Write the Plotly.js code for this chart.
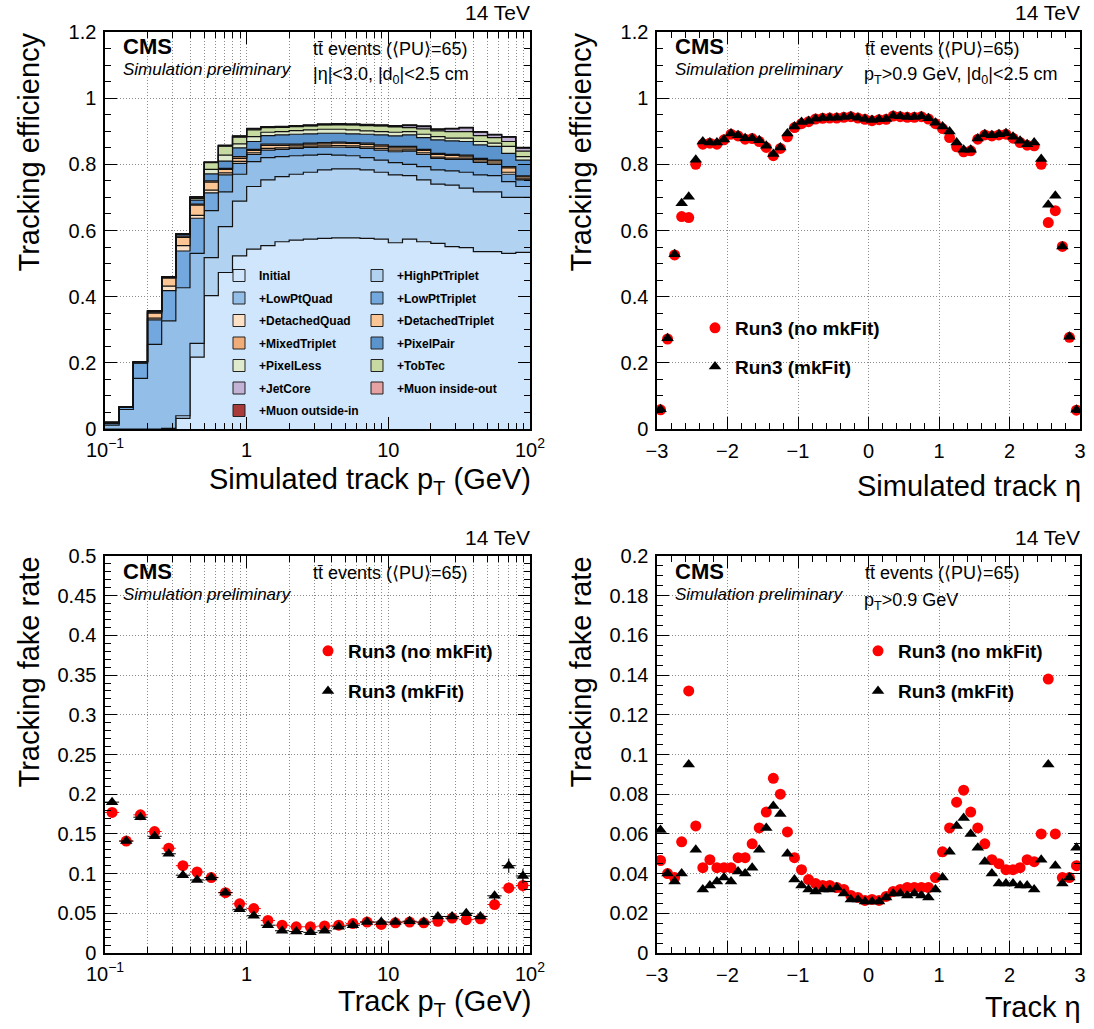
<!DOCTYPE html>
<html><head><meta charset="utf-8">
<script src="https://cdn.plot.ly/plotly-3.0.1.min.js"></script>
<style>html,body{margin:0;padding:0;background:#fff}#chart{width:1094px;height:1029px}</style>
</head><body><div id="chart"></div>
<script>
// ---------- binning ----------
const ptLogMin = -1, ptLogStep = 0.1, nPtBins = 30;   // 0.1 .. 100 GeV, log bins
const etaMin = -3, etaStep = 0.1, nEtaBins = 60;      // -3 .. 3

// ---------- stacked efficiency vs pT (per iteration contribution) ----------
const effInitial        = [0,0,0,0,0.002,0.032,0.217,0.403,0.473,0.523,0.544,0.554,0.566,0.571,0.574,0.576,0.578,0.578,0.576,0.574,0.563,0.574,0.566,0.561,0.551,0.548,0.536,0.536,0.531,0.534];
const effHighPtTriplet  = [0,0,0,0,0,0.008,0.042,0.115,0.139,0.166,0.189,0.199,0.197,0.199,0.202,0.207,0.208,0.208,0.207,0.202,0.205,0.192,0.187,0.179,0.186,0.180,0.181,0.181,0.169,0.166];
const effLowPtQuad      = [0.012,0.059,0.153,0.256,0.325,0.387,0.272,0.142,0.105,0.081,0.075,0.067,0.060,0.056,0.052,0.047,0.042,0.040,0.037,0.037,0.037,0.034,0.040,0.043,0.043,0.048,0.051,0.049,0.048,0.033];
const effLowPtTriplet   = [0.006,0.006,0.046,0.074,0.091,0.111,0.106,0.054,0.051,0.033,0.022,0.023,0.022,0.022,0.023,0.022,0.024,0.025,0.028,0.030,0.033,0.040,0.037,0.035,0.035,0.039,0.038,0.034,0.022,0.020];
const effDetachedQuad   = [0,0,0.001,0.005,0.014,0.016,0.009,0.008,0.006,0.006,0.005,0.005,0.005,0.004,0.004,0.004,0.005,0.005,0.005,0.005,0.005,0.004,0.005,0.004,0.004,0.004,0.004,0.004,0.006,0.003];
const effDetachedTriplet= [0,0.001,0.001,0.015,0.024,0.025,0.031,0.024,0.011,0.009,0.007,0.009,0.007,0.006,0.006,0.006,0.007,0.007,0.007,0.007,0.007,0.006,0.007,0.008,0.008,0.006,0.005,0.006,0.013,0.006];
const effMixedTriplet   = [0,0,0.001,0.003,0.002,0.004,0.003,0.004,0.003,0.005,0.003,0.004,0.004,0.003,0.003,0.004,0.003,0.003,0.004,0.004,0.004,0.004,0.003,0.003,0.003,0.003,0.003,0.003,0.004,0.003];
const effPixelPair      = [0.002,0.001,0.002,0.002,0.001,0.006,0.012,0.021,0.022,0.027,0.024,0.026,0.028,0.030,0.028,0.028,0.027,0.026,0.027,0.030,0.032,0.035,0.036,0.041,0.041,0.041,0.041,0.041,0.040,0.048];
const effPixelLess      = [0,0,0,0.001,0,0,0.005,0.014,0.018,0.012,0.015,0.010,0.010,0.011,0.012,0.012,0.012,0.012,0.010,0.010,0.011,0.010,0.010,0.010,0.008,0.010,0.010,0.010,0.021,0.010];
const effTobTec         = [0,0,0,0.001,0.001,0,0.004,0.020,0.027,0.020,0.020,0.014,0.013,0.012,0.012,0.013,0.013,0.015,0.016,0.017,0.016,0.012,0.016,0.017,0.020,0.020,0.018,0.017,0.015,0.017];
const effJetCore        = [0,0,0,0,0,0,0,0.001,0.001,0.002,0.003,0.001,0.001,0.001,0.001,0.001,0.002,0.001,0.002,0.001,0.002,0.006,0.007,0.004,0.008,0.011,0.010,0.008,0.013,0.009];
const effMuonInsideOut  = [0,0,0,0.001,0,0,0.001,0.001,0.001,0.001,0.001,0.001,0.001,0.001,0.001,0.001,0.001,0.001,0.001,0.001,0.001,0.001,0.001,0.001,0.001,0.001,0.001,0.001,0.001,0.001];
const effMuonOutsideIn  = [0,0,0,0,0,0,0,0,0.001,0.001,0.001,0.001,0.001,0.001,0.001,0.001,0.001,0.001,0.001,0.001,0.001,0.001,0.001,0.001,0.001,0.001,0.001,0.001,0.001,0.001];

// ---------- efficiency vs eta ----------
const effEtaNoMkFit = [0.058,0.272,0.526,0.642,0.639,0.800,0.861,0.864,0.861,0.874,0.891,0.886,0.876,0.878,0.869,0.851,0.826,0.848,0.883,0.911,0.923,0.929,0.937,0.939,0.940,0.940,0.942,0.944,0.940,0.936,0.932,0.935,0.936,0.946,0.944,0.942,0.942,0.944,0.937,0.923,0.908,0.881,0.853,0.838,0.841,0.876,0.889,0.886,0.889,0.891,0.879,0.866,0.858,0.856,0.800,0.624,0.660,0.552,0.277,0.057];
const effEtaMkFit   = [0.060,0.274,0.528,0.682,0.702,0.814,0.869,0.866,0.866,0.875,0.893,0.888,0.879,0.879,0.873,0.856,0.831,0.851,0.893,0.914,0.928,0.931,0.938,0.940,0.941,0.941,0.943,0.945,0.941,0.937,0.934,0.936,0.937,0.947,0.945,0.943,0.943,0.945,0.939,0.926,0.914,0.899,0.866,0.844,0.844,0.878,0.891,0.888,0.891,0.894,0.883,0.871,0.861,0.866,0.816,0.678,0.705,0.552,0.279,0.058];

// ---------- fake rate vs pT ----------
const fakePtNoMkFit = [0.177,0.141,0.174,0.153,0.132,0.110,0.102,0.095,0.076,0.062,0.056,0.041,0.035,0.033,0.033,0.034,0.035,0.037,0.039,0.036,0.038,0.039,0.038,0.040,0.044,0.042,0.043,0.061,0.082,0.085];
const fakePtMkFit   = [0.190,0.141,0.171,0.147,0.125,0.098,0.092,0.095,0.076,0.055,0.047,0.035,0.028,0.027,0.026,0.028,0.033,0.035,0.039,0.039,0.039,0.040,0.039,0.046,0.046,0.050,0.046,0.072,0.110,0.097];
const fakePtErrNoMkFit = [0.003,0.002,0.002,0.002,0.002,0.002,0.002,0.002,0.002,0.002,0.002,0.001,0.001,0.001,0.001,0.001,0.001,0.001,0.001,0.001,0.001,0.001,0.001,0.002,0.002,0.002,0.003,0.005,0.007,0.008];
const fakePtErrMkFit   = [0.003,0.002,0.002,0.002,0.002,0.002,0.002,0.002,0.002,0.002,0.002,0.001,0.001,0.001,0.001,0.001,0.001,0.001,0.001,0.001,0.001,0.001,0.001,0.002,0.002,0.002,0.003,0.005,0.009,0.009];

// ---------- fake rate vs eta ----------
const fakeEtaNoMkFit = [0.0466,0.040,0.038,0.056,0.132,0.064,0.043,0.047,0.043,0.043,0.043,0.048,0.048,0.055,0.063,0.071,0.088,0.080,0.061,0.048,0.042,0.037,0.035,0.034,0.034,0.033,0.032,0.029,0.028,0.0265,0.027,0.0265,0.0285,0.031,0.032,0.033,0.033,0.033,0.033,0.038,0.051,0.063,0.076,0.082,0.071,0.063,0.055,0.047,0.045,0.042,0.042,0.043,0.047,0.046,0.060,0.138,0.060,0.038,0.038,0.044];
const fakeEtaMkFit   = [0.062,0.040,0.036,0.040,0.095,0.052,0.032,0.034,0.036,0.038,0.036,0.041,0.040,0.043,0.052,0.063,0.074,0.070,0.050,0.037,0.034,0.032,0.031,0.032,0.032,0.033,0.030,0.027,0.027,0.026,0.026,0.026,0.028,0.030,0.030,0.029,0.030,0.029,0.028,0.032,0.038,0.051,0.064,0.068,0.060,0.053,0.046,0.040,0.035,0.035,0.035,0.034,0.034,0.032,0.047,0.095,0.044,0.035,0.038,0.053];

// ---------- derived bin geometry ----------
const ptEdges = Array.from({length: nPtBins + 1}, (_, i) => Math.pow(10, ptLogMin + ptLogStep * i));
const ptCenters = Array.from({length: nPtBins}, (_, i) => Math.pow(10, ptLogMin + ptLogStep * (i + 0.5)));
const ptErrPlus = ptCenters.map((c, i) => ptEdges[i + 1] - c);
const ptErrMinus = ptCenters.map((c, i) => c - ptEdges[i]);
const etaCenters = Array.from({length: nEtaBins}, (_, i) => etaMin + etaStep * (i + 0.5));

const W = 1094, H = 1029;
const px = v => v / W, py = v => 1 - v / H;
const FONT = 'Liberation Sans, Arial, Helvetica, sans-serif';

// ---------- stack traces ----------
const layers = [
  ['Initial', effInitial, '#cfe6fc', 'legend'],
  ['+HighPtTriplet', effHighPtTriplet, '#b2d2f2', 'legend2'],
  ['+LowPtQuad', effLowPtQuad, '#93bee8', 'legend'],
  ['+LowPtTriplet', effLowPtTriplet, '#72a8de', 'legend2'],
  ['+DetachedQuad', effDetachedQuad, '#fde1c6', 'legend'],
  ['+DetachedTriplet', effDetachedTriplet, '#fbc594', 'legend2'],
  ['+MixedTriplet', effMixedTriplet, '#f0ac78', 'legend'],
  ['+PixelPair', effPixelPair, '#5b93cd', 'legend2'],
  ['+PixelLess', effPixelLess, '#e0ebcd', 'legend'],
  ['+TobTec', effTobTec, '#c7daa2', 'legend2'],
  ['+JetCore', effJetCore, '#c2b2d6', 'legend'],
  ['+Muon inside-out', effMuonInsideOut, '#e6a2a2', 'legend2'],
  ['+Muon outside-in', effMuonOutsideIn, '#a83a3a', 'legend']
];
const traces = layers.map(([name, vals, color, leg], k) => ({
  type: 'scatter', mode: 'lines', name: name,
  x: ptEdges, y: vals.concat([vals[vals.length - 1]]),
  stackgroup: 'eff', line: {shape: 'hv', color: '#111', width: 1.2},
  fillcolor: color, xaxis: 'x', yaxis: 'y', showlegend: false, hoverinfo: 'skip'
}));
// legend entries (box swatches) for the stack
layers.forEach(([name, vals, color, leg], k) => traces.push({
  type: 'scatter', mode: 'markers', name: name, x: [null], y: [null], xaxis: 'x', yaxis: 'y',
  marker: {symbol: 'square', size: 12, color: color, line: {color: '#222', width: 1}},
  legend: leg, legendgroup: 'g' + k, hoverinfo: 'skip'
}));

const redMk = {symbol: 'circle', size: 11, color: '#ff0000'};
const blkMk = {symbol: 'triangle-up', size: 11, color: '#000000'};

traces.push(
  {type: 'scatter', mode: 'markers', name: 'Run3 (no mkFit)', x: etaCenters, y: effEtaNoMkFit, marker: redMk, xaxis: 'x2', yaxis: 'y2', legend: 'legend3', legendgroup: 'a'},
  {type: 'scatter', mode: 'markers', name: 'Run3 (mkFit)', x: etaCenters, y: effEtaMkFit, marker: blkMk, xaxis: 'x2', yaxis: 'y2', legend: 'legend3', legendgroup: 'b'},
  {type: 'scatter', mode: 'markers', name: 'Run3 (no mkFit)', x: ptCenters, y: fakePtNoMkFit, marker: redMk, xaxis: 'x3', yaxis: 'y3', legend: 'legend4', legendgroup: 'c',
   error_x: {type: 'data', array: ptErrPlus, arrayminus: ptErrMinus, color: '#ff0000', thickness: 1, width: 0},
   error_y: {type: 'data', array: fakePtErrNoMkFit, color: '#ff0000', thickness: 1, width: 0}},
  {type: 'scatter', mode: 'markers', name: 'Run3 (mkFit)', x: ptCenters, y: fakePtMkFit, marker: blkMk, xaxis: 'x3', yaxis: 'y3', legend: 'legend4', legendgroup: 'd',
   error_x: {type: 'data', array: ptErrPlus, arrayminus: ptErrMinus, color: '#000', thickness: 1, width: 0},
   error_y: {type: 'data', array: fakePtErrMkFit, color: '#000', thickness: 1, width: 0}},
  {type: 'scatter', mode: 'markers', name: 'Run3 (no mkFit)', x: etaCenters, y: fakeEtaNoMkFit, marker: redMk, xaxis: 'x4', yaxis: 'y4', legend: 'legend5', legendgroup: 'e'},
  {type: 'scatter', mode: 'markers', name: 'Run3 (mkFit)', x: etaCenters, y: fakeEtaMkFit, marker: blkMk, xaxis: 'x4', yaxis: 'y4', legend: 'legend5', legendgroup: 'f'}
);

// ---------- axes ----------
const GRID = {gridcolor: '#8a8a8a', griddash: '1px,2px', gridwidth: 1};
const baseAxis = Object.assign({
  showline: true, linecolor: '#000', linewidth: 1.6, mirror: 'allticks',
  ticks: 'inside', ticklen: 12, tickwidth: 1, tickcolor: '#000',
  showgrid: true, zeroline: false, tickfont: {family: FONT, size: 20, color: '#000'},
  ticklabelstandoff: 3
}, GRID);
const logAxis = (dom, anchor) => Object.assign({}, baseAxis, {
  type: 'log', range: [-1, 2], dtick: 1, exponentformat: 'power',
  tickfont: {family: FONT, size: 16, color: '#000'},
  domain: dom, anchor: anchor,
  minor: Object.assign({dtick: 'D1', ticks: 'inside', ticklen: 6, tickcolor: '#000', showgrid: true}, GRID)
});
const etaAxis = (dom, anchor) => Object.assign({}, baseAxis, {
  range: [-3, 3], dtick: 1, domain: dom, anchor: anchor,
  minor: {dtick: 0.2, ticks: 'inside', ticklen: 6, tickcolor: '#000', showgrid: false}
});
const yAxis = (dom, anchor, rng, dt, mdt) => Object.assign({}, baseAxis, {
  range: rng, dtick: dt, domain: dom, anchor: anchor,
  minor: {dtick: mdt, ticks: 'inside', ticklen: 6, tickcolor: '#000', showgrid: false}
});

const xL = [px(105), px(530)], xR = [px(657), px(1080)];
const yT = [py(429), py(32)], yB = [py(953), py(556)];

// ---------- annotations ----------
const ann = [];
const T = (text, x, y, opts) => ann.push(Object.assign({
  text: text, x: px(x), y: py(y), xref: 'paper', yref: 'paper', showarrow: false,
  xanchor: 'left', yanchor: 'middle', font: {family: FONT, size: 18, color: '#000'}
}, opts || {}));
[[105, 530, 0], [657, 1080, 0], [105, 530, 524], [657, 1080, 524]].forEach(([l, r, dy], k) => {
  T('14 TeV', r + 2, 13 + dy, {xanchor: 'right', font: {family: FONT, size: 21, color: '#000'}});
  T('<b>CMS</b>', l + 16, 47 + dy, {font: {family: FONT, size: 22, color: '#000'}});
  T('<i>Simulation preliminary</i>', l + 16, 70 + dy, {font: {family: FONT, size: 17, color: '#000'}});
  T('tt\u0304 events (\u27e8PU\u27e9=65)', l + 206, 49 + dy);
});
T('|\u03b7|&lt;3.0, |d<sub>0</sub>|&lt;2.5 cm', 311, 75);
T('p<sub>T</sub>&gt;0.9 GeV, |d<sub>0</sub>|&lt;2.5 cm', 862, 75);
T('p<sub>T</sub>&gt;0.9 GeV', 862, 601);

const TF = {family: FONT, size: 29, color: '#000'};
T('Tracking efficiency', 28, 31, {xanchor: 'center', yanchor: 'top', textangle: -90, font: TF});
T('Tracking efficiency', 580, 31, {xanchor: 'center', yanchor: 'top', textangle: -90, font: TF});
T('Tracking fake rate', 28, 555, {xanchor: 'center', yanchor: 'top', textangle: -90, font: TF});
T('Tracking fake rate', 580, 555, {xanchor: 'center', yanchor: 'top', textangle: -90, font: TF});
T('Simulated track p<sub>T</sub> (GeV)', 533, 481, {xanchor: 'right', font: TF});
T('Simulated track \u03b7', 1083, 486, {xanchor: 'right', font: TF});
T('Track p<sub>T</sub> (GeV)', 533, 1003, {xanchor: 'right', font: TF});
T('Track \u03b7', 1083, 1007, {xanchor: 'right', font: TF});

const legStack = (x) => ({
  x: px(x), y: py(261), xanchor: 'left', yanchor: 'top', bgcolor: 'rgba(0,0,0,0)', borderwidth: 0,
  font: {family: FONT, size: 12, color: '#000', weight: 'bold'}, traceorder: 'grouped', tracegroupgap: 3.5,
  itemclick: false, itemdoubleclick: false
});
const legPts = (x, y, gap) => ({
  x: px(x), y: py(y), xanchor: 'left', yanchor: 'top', bgcolor: 'rgba(0,0,0,0)', borderwidth: 0,
  font: {family: FONT, size: 19, color: '#000', weight: 'bold'}, traceorder: 'grouped', tracegroupgap: gap,
  itemclick: false, itemdoubleclick: false
});

const layout = {
  width: W, height: H, margin: {l: 0, r: 0, t: 0, b: 0},
  paper_bgcolor: '#fff', plot_bgcolor: '#fff', showlegend: true,
  font: {family: FONT, color: '#000'},
  xaxis: logAxis(xL, 'y'), yaxis: yAxis(yT, 'x', [0, 1.2], 0.2, 0.05),
  xaxis2: etaAxis(xR, 'y2'), yaxis2: yAxis(yT, 'x2', [0, 1.2], 0.2, 0.05),
  xaxis3: logAxis(xL, 'y3'), yaxis3: yAxis(yB, 'x3', [0, 0.5], 0.05, 0.01),
  xaxis4: etaAxis(xR, 'y4'), yaxis4: yAxis(yB, 'x4', [0, 0.2], 0.02, 0.005),
  legend: legStack(219), legend2: legStack(357),
  legend3: legPts(695, 309, 11), legend4: legPts(308, 632, 12.5), legend5: legPts(858, 632, 12.5),
  annotations: ann
};

Plotly.newPlot('chart', traces, layout, {displayModeBar: false, staticPlot: true});
</script></body></html>
